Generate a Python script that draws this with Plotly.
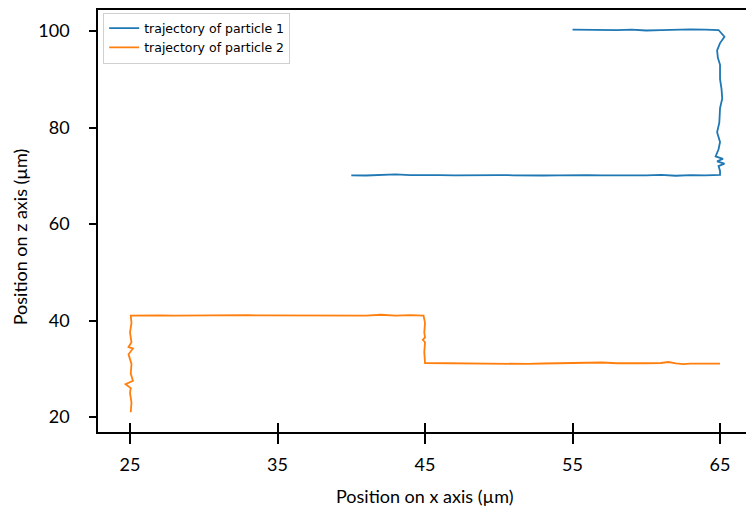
import plotly.graph_objects as go

# Particle 1 trajectory (x, z in µm)
p1_x = [55.0, 56.0, 57.0, 58.0, 59.0, 60.0, 61.0, 62.0, 63.0, 64.0, 64.9,
        65.3, 65.0, 64.8, 64.85, 65.0, 65.0, 65.1, 65.15, 65.0, 64.95, 64.8, 65.0, 64.9,
        64.7, 65.2, 64.8, 65.3, 64.9, 65.0, 65.0,
        64.0, 63.0, 62.0, 61.0, 60.0, 59.0, 58.0, 57.0, 56.0, 55.0, 54.0, 53.0, 52.0,
        51.0, 50.0, 49.0, 48.0, 47.0, 46.0, 45.0, 44.0, 43.0, 42.0, 41.0, 40.0]
p1_z = [100.3, 100.25, 100.35, 100.2, 100.3, 100.1, 100.2, 100.3, 100.35, 100.3, 100.2,
        98.8, 97.5, 96.0, 94.5, 93.0, 90.0, 88.0, 86.0, 84.0, 81.0, 79.0, 77.0, 75.5,
        74.0, 73.5, 73.0, 72.5, 72.0, 71.0, 70.2,
        70.1, 70.15, 70.0, 70.2, 70.1, 70.05, 70.15, 70.1, 70.15, 70.2, 70.1, 70.05, 70.0,
        70.1, 70.15, 70.1, 70.15, 70.1, 70.15, 70.1, 70.15, 70.3, 70.1, 70.05, 70.1]

# Particle 2 trajectory (x, z in µm)
p2_x = [25.05, 25.1, 25.0, 25.05, 24.7, 25.2, 25.05, 25.1, 24.9, 25.2, 24.9, 25.1, 25.0, 25.1, 25.05,
        26.0, 27.0, 28.0, 29.0, 30.0, 31.0, 32.0, 33.0, 34.0, 35.0, 36.0, 37.0, 38.0, 39.0,
        40.0, 41.0, 42.0, 43.0, 44.0, 44.9,
        45.0, 44.95, 45.0, 44.85, 45.0, 44.95, 45.0,
        46.0, 47.0, 48.0, 49.0, 50.0, 51.0, 52.0, 53.0, 54.0, 55.0, 56.0, 57.0, 58.0,
        59.0, 60.0, 61.0, 61.5, 62.0, 62.5, 63.0, 64.0, 65.0]
p2_z = [21.0, 23.0, 25.0, 26.0, 26.8, 27.5, 29.0, 31.0, 33.0, 34.2, 34.5, 35.5, 37.5, 39.5, 41.0,
        41.1, 41.05, 41.0, 41.05, 41.0, 41.05, 41.1, 41.1, 41.05, 41.05, 41.0, 41.05, 41.05, 41.05,
        41.0, 41.0, 41.2, 41.0, 41.1, 41.0,
        39.5, 37.5, 36.5, 36.0, 35.5, 33.5, 31.2,
        31.15, 31.1, 31.05, 31.1, 31.0, 31.05, 31.0, 31.1, 31.15, 31.1, 31.25, 31.3, 31.15,
        31.1, 31.15, 31.2, 31.4, 31.1, 30.95, 31.05, 31.05, 31.05]

x_ticks = [25, 35, 45, 55, 65]
z_ticks = [20, 40, 60, 80, 100]
names = ["trajectory of particle 1", "trajectory of particle 2"]
colors = ["#1f77b4", "#ff7f0e"]

fig = go.Figure()
fig.add_trace(go.Scatter(x=p1_x, y=p1_z, mode="lines", name=names[0],
                         line=dict(color=colors[0], width=1.8)))
fig.add_trace(go.Scatter(x=p2_x, y=p2_z, mode="lines", name=names[1],
                         line=dict(color=colors[1], width=1.8)))
# dummy trace to carry the inner tick axis
fig.add_trace(go.Scatter(x=[None], y=[None], xaxis="x2", yaxis="y",
                         showlegend=False, hoverinfo="skip"))

xr = [22.83, 66.76]
yr = [16.9, 104.35]
tickfont = dict(family="Lato, Open Sans, sans-serif", size=18, color="black")

fig.update_layout(
    width=746, height=511,
    margin=dict(l=98, r=0, t=10, b=79, autoexpand=False),
    paper_bgcolor="white", plot_bgcolor="white",
    showlegend=True,
    legend=dict(x=0.008, y=0.994, xanchor="left", yanchor="top",
                bordercolor="#d0d0d0", borderwidth=1, bgcolor="white",
                font=dict(family="DejaVu Sans", size=12.5, color="black"),
                tracegroupgap=0, itemwidth=30),
    xaxis=dict(range=xr, tickvals=x_ticks, ticktext=[str(v) for v in x_ticks],
               showgrid=False, zeroline=False, showline=True, linecolor="black",
               linewidth=1.5, mirror=True, ticks="outside", ticklen=10,
               tickwidth=1.5, tickcolor="black", tickfont=tickfont,
               ticklabelstandoff=6, automargin=False),
    xaxis2=dict(range=xr, overlaying="x", tickvals=x_ticks, showticklabels=False,
                showgrid=False, zeroline=False, showline=False, ticks="inside",
                ticklen=9, tickwidth=1.5, tickcolor="black", side="bottom",
                automargin=False),
    yaxis=dict(range=yr, tickvals=z_ticks, ticktext=[str(v) for v in z_ticks],
               showgrid=False, zeroline=False, showline=True, linecolor="black",
               linewidth=1.5, mirror=False, ticks="outside", ticklen=7,
               tickwidth=1.5, tickcolor="black", tickfont=tickfont,
               ticklabelstandoff=16, automargin=False),
    annotations=[
        dict(text="Position on x axis (µm)", xref="paper", yref="paper",
             x=0.504, y=-0.152, showarrow=False, xanchor="center", yanchor="middle",
             font=dict(family="Lato, Open Sans, sans-serif", size=18, color="black")),
        dict(text="Position on z axis (µm)", xref="paper", yref="paper",
             x=-0.120, y=0.462, showarrow=False, xanchor="center", yanchor="middle",
             textangle=-90,
             font=dict(family="Lato, Open Sans, sans-serif", size=18, color="black")),
    ],
)

fig.write_html(
    "out.html",
    config={"displayModeBar": False},
    post_script="document.body.style.margin='0';document.body.style.overflow='hidden';",
)
